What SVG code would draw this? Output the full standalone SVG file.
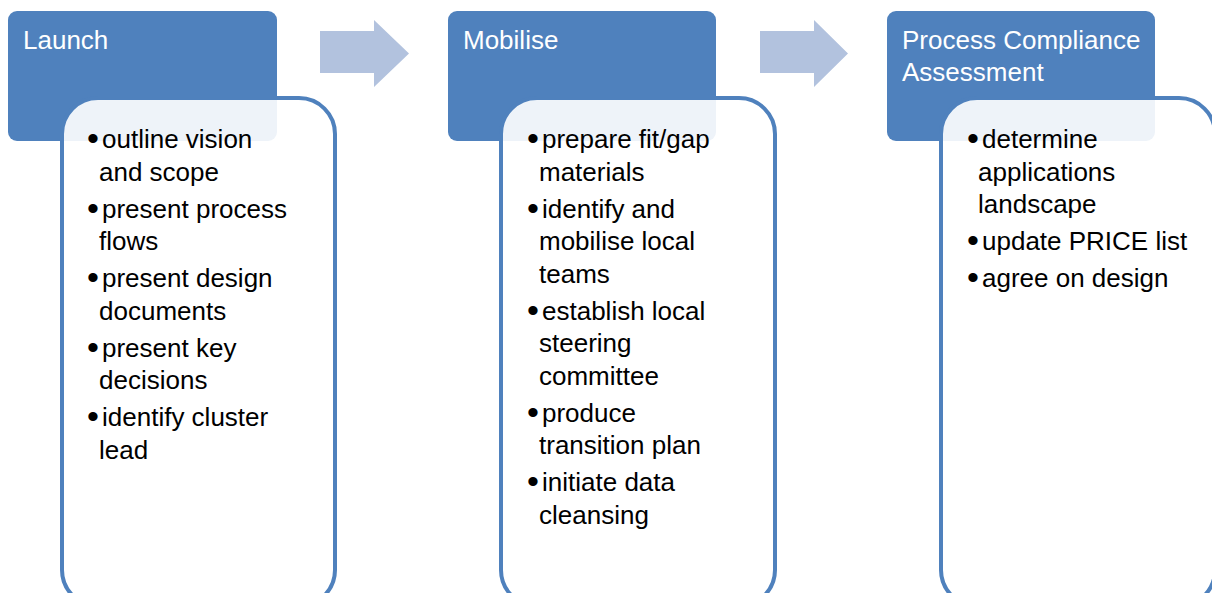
<svg xmlns="http://www.w3.org/2000/svg" width="1212" height="593" viewBox="0 0 1212 593">
<style>
.hdr{fill:#4f81bd}
.box{fill:#ffffff;fill-opacity:0.9;stroke:#4f81bd;stroke-width:4}
.arrow{fill:#b2c2de}
.ht{font-family:"Liberation Sans",Arial,sans-serif;font-size:26px;fill:#ffffff}
.bt{font-family:"Liberation Sans",Arial,sans-serif;font-size:26px;fill:#000000}
.bl{font-size:34px}
</style>
<rect width="1212" height="593" fill="#ffffff"/>
<g id="connectors">
<polygon class="arrow" points="320,31 374,31 374,20 409,53.5 374,87 374,73 320,73"/>
<polygon class="arrow" points="760,31 814,31 814,20 848,53.5 814,87 814,73 760,73"/>
</g>
<g id="launch">
<rect class="hdr" x="8" y="11" width="269" height="130" rx="9"/>
<text class="ht" x="23" y="49">Launch</text>
<rect class="box" x="62" y="98" width="273" height="508" rx="36"/>
<text class="bt" x="87" y="148"><tspan class="bl" dy="2">•</tspan><tspan x="102" dy="-2">outline vision</tspan></text>
<text class="bt" x="99" y="180.5">and scope</text>
<text class="bt" x="87" y="217.5"><tspan class="bl" dy="2">•</tspan><tspan x="102" dy="-2">present process</tspan></text>
<text class="bt" x="99" y="250">flows</text>
<text class="bt" x="87" y="287"><tspan class="bl" dy="2">•</tspan><tspan x="102" dy="-2">present design</tspan></text>
<text class="bt" x="99" y="319.5">documents</text>
<text class="bt" x="87" y="356.5"><tspan class="bl" dy="2">•</tspan><tspan x="102" dy="-2">present key</tspan></text>
<text class="bt" x="99" y="389">decisions</text>
<text class="bt" x="87" y="426"><tspan class="bl" dy="2">•</tspan><tspan x="102" dy="-2">identify cluster</tspan></text>
<text class="bt" x="99" y="458.5">lead</text>
</g>
<g id="mobilise">
<rect class="hdr" x="448" y="11" width="268" height="130" rx="9"/>
<text class="ht" x="463" y="49">Mobilise</text>
<rect class="box" x="501" y="98" width="274" height="508" rx="36"/>
<text class="bt" x="527" y="148"><tspan class="bl" dy="2">•</tspan><tspan x="542" dy="-2">prepare fit/gap</tspan></text>
<text class="bt" x="539" y="180.5">materials</text>
<text class="bt" x="527" y="217.5"><tspan class="bl" dy="2">•</tspan><tspan x="542" dy="-2">identify and</tspan></text>
<text class="bt" x="539" y="250">mobilise local</text>
<text class="bt" x="539" y="282.5">teams</text>
<text class="bt" x="527" y="319.5"><tspan class="bl" dy="2">•</tspan><tspan x="542" dy="-2">establish local</tspan></text>
<text class="bt" x="539" y="352">steering</text>
<text class="bt" x="539" y="384.5">committee</text>
<text class="bt" x="527" y="421.5"><tspan class="bl" dy="2">•</tspan><tspan x="542" dy="-2">produce</tspan></text>
<text class="bt" x="539" y="454">transition plan</text>
<text class="bt" x="527" y="491"><tspan class="bl" dy="2">•</tspan><tspan x="542" dy="-2">initiate data</tspan></text>
<text class="bt" x="539" y="523.5">cleansing</text>
</g>
<g id="assessment">
<rect class="hdr" x="887" y="11" width="268" height="130" rx="9"/>
<text class="ht" x="902" y="49">Process Compliance</text>
<text class="ht" x="902" y="81">Assessment</text>
<rect class="box" x="941" y="98" width="274" height="508" rx="36"/>
<text class="bt" x="967" y="148"><tspan class="bl" dy="2">•</tspan><tspan x="982" dy="-2">determine</tspan></text>
<text class="bt" x="978" y="180.5">applications</text>
<text class="bt" x="978" y="213">landscape</text>
<text class="bt" x="967" y="250"><tspan class="bl" dy="2">•</tspan><tspan x="982" dy="-2">update PRICE list</tspan></text>
<text class="bt" x="967" y="287"><tspan class="bl" dy="2">•</tspan><tspan x="982" dy="-2">agree on design</tspan></text>
</g>
</svg>
